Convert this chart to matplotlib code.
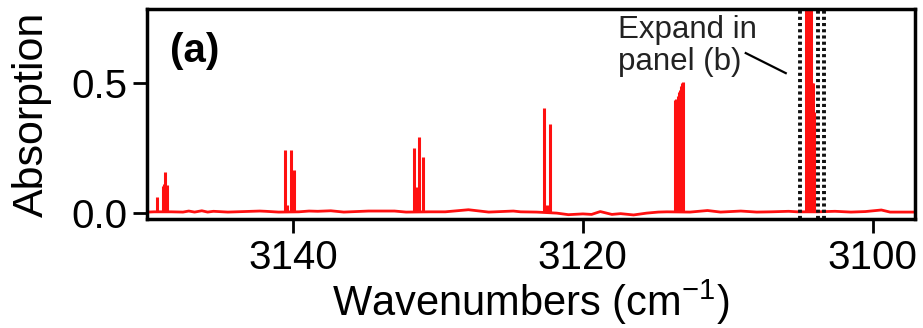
import matplotlib
matplotlib.use("Agg")
import matplotlib.pyplot as plt

plt.rcParams['font.family'] = ['Liberation Sans', 'DejaVu Sans']
plt.rcParams['mathtext.fontset'] = 'custom'
plt.rcParams['mathtext.rm'] = 'Liberation Sans'

# peak positions (cm-1) and heights
peak_wn = [3149.40, 3148.99, 3148.90, 3148.81, 3148.70,
           3140.53, 3140.40, 3140.12, 3140.05, 3139.92,
           3131.68, 3131.50, 3131.33, 3131.06,
           3122.71, 3122.50, 3122.26,
           3113.66, 3113.55, 3113.45, 3113.36, 3113.28, 3113.21, 3113.14, 3113.07,
           3104.62, 3104.52, 3104.41, 3104.31, 3104.24, 3104.17, 3104.10, 3104.03]
peak_abs = [0.063, 0.104, 0.11, 0.159, 0.108,
            0.242, 0.03, 0.242, 0.108, 0.165,
            0.25, 0.10, 0.294, 0.215,
            0.405, 0.03, 0.341,
            0.435, 0.44, 0.45, 0.465, 0.475, 0.49, 0.50, 0.505,
            0.90, 0.90, 0.90, 0.90, 0.90, 0.50, 0.50, 0.39]

# baseline between peaks
base_wn = [3150.0, 3149.6, 3148.4, 3147.6, 3147.2, 3146.8, 3146.3, 3145.9, 3145.5,
           3144.5, 3142.3, 3141.9, 3141.0, 3139.6, 3138.9, 3138.3, 3137.4, 3136.5,
           3134.8, 3133.0, 3132.2, 3130.6, 3129.5, 3127.9, 3126.5, 3124.8, 3124.3,
           3123.2, 3121.8, 3121.0, 3120.0, 3119.4, 3118.8, 3118.0, 3117.4, 3116.5,
           3115.6, 3114.8, 3114.2, 3112.6, 3111.4, 3110.5, 3109.1, 3108.0, 3107.0,
           3105.8, 3105.2, 3103.8, 3102.6, 3101.5, 3100.5, 3099.4, 3098.8, 3097.0]
base_abs = [0.004, 0.005, 0.005, 0.004, 0.008, 0.004, 0.009, 0.004, 0.007,
            0.004, 0.008, 0.007, 0.004, 0.005, 0.008, 0.007, 0.009, 0.004,
            0.008, 0.008, 0.004, 0.005, 0.005, 0.013, 0.004, 0.008, 0.005,
            0.004, 0.000, -0.006, -0.003, -0.005, 0.006, -0.005, -0.002, -0.007,
            0.000, 0.004, 0.005, 0.004, 0.010, 0.004, 0.008, 0.004, 0.005,
            0.007, 0.005, 0.005, 0.007, 0.004, 0.006, 0.012, 0.004, 0.004]

box_wn = [3105.03, 3103.79, 3103.38]

fig = plt.figure(figsize=(9.23, 3.28), dpi=100)
ax = fig.add_axes([0.159, 0.332, 0.832, 0.641])

red = '#ff1010'
ax.plot(base_wn, base_abs, color=red, lw=2.0)
ax.vlines(peak_wn, 0.004, peak_abs, color=red, lw=2.2)

for w in box_wn:
    ax.axvline(w, color='#111111', lw=2.8, ls=(0, (0.8, 0.8)))

ax.text(3117.6, 0.76, 'Expand in\npanel (b)', fontsize=22.5, ha='left', va='top',
        linespacing=1.05, color='#222222')
ax.plot([3108.76, 3106.0], [0.615, 0.538], color='black', lw=1.6)

ax.text(0.03, 0.89, '(a)', transform=ax.transAxes, fontsize=29, fontweight='bold',
        ha='left', va='top')

ax.set_xlim(3150.1, 3097.1)
ax.set_ylim(-0.023, 0.785)
ax.set_xticks([3140, 3120, 3100])
ax.set_yticks([0.0, 0.5])
ax.set_yticklabels(['0.0', '0.5'])
ax.tick_params(axis='both', direction='out', length=10, width=2, labelsize=29, pad=4)
for s in ax.spines.values():
    s.set_linewidth(2.5)

ax.set_xlabel('Wavenumbers (cm$^{-1}$)', fontsize=30, labelpad=1)
ax.set_ylabel('Absorption', fontsize=31, labelpad=14)

fig.savefig('out.png', dpi=100)
